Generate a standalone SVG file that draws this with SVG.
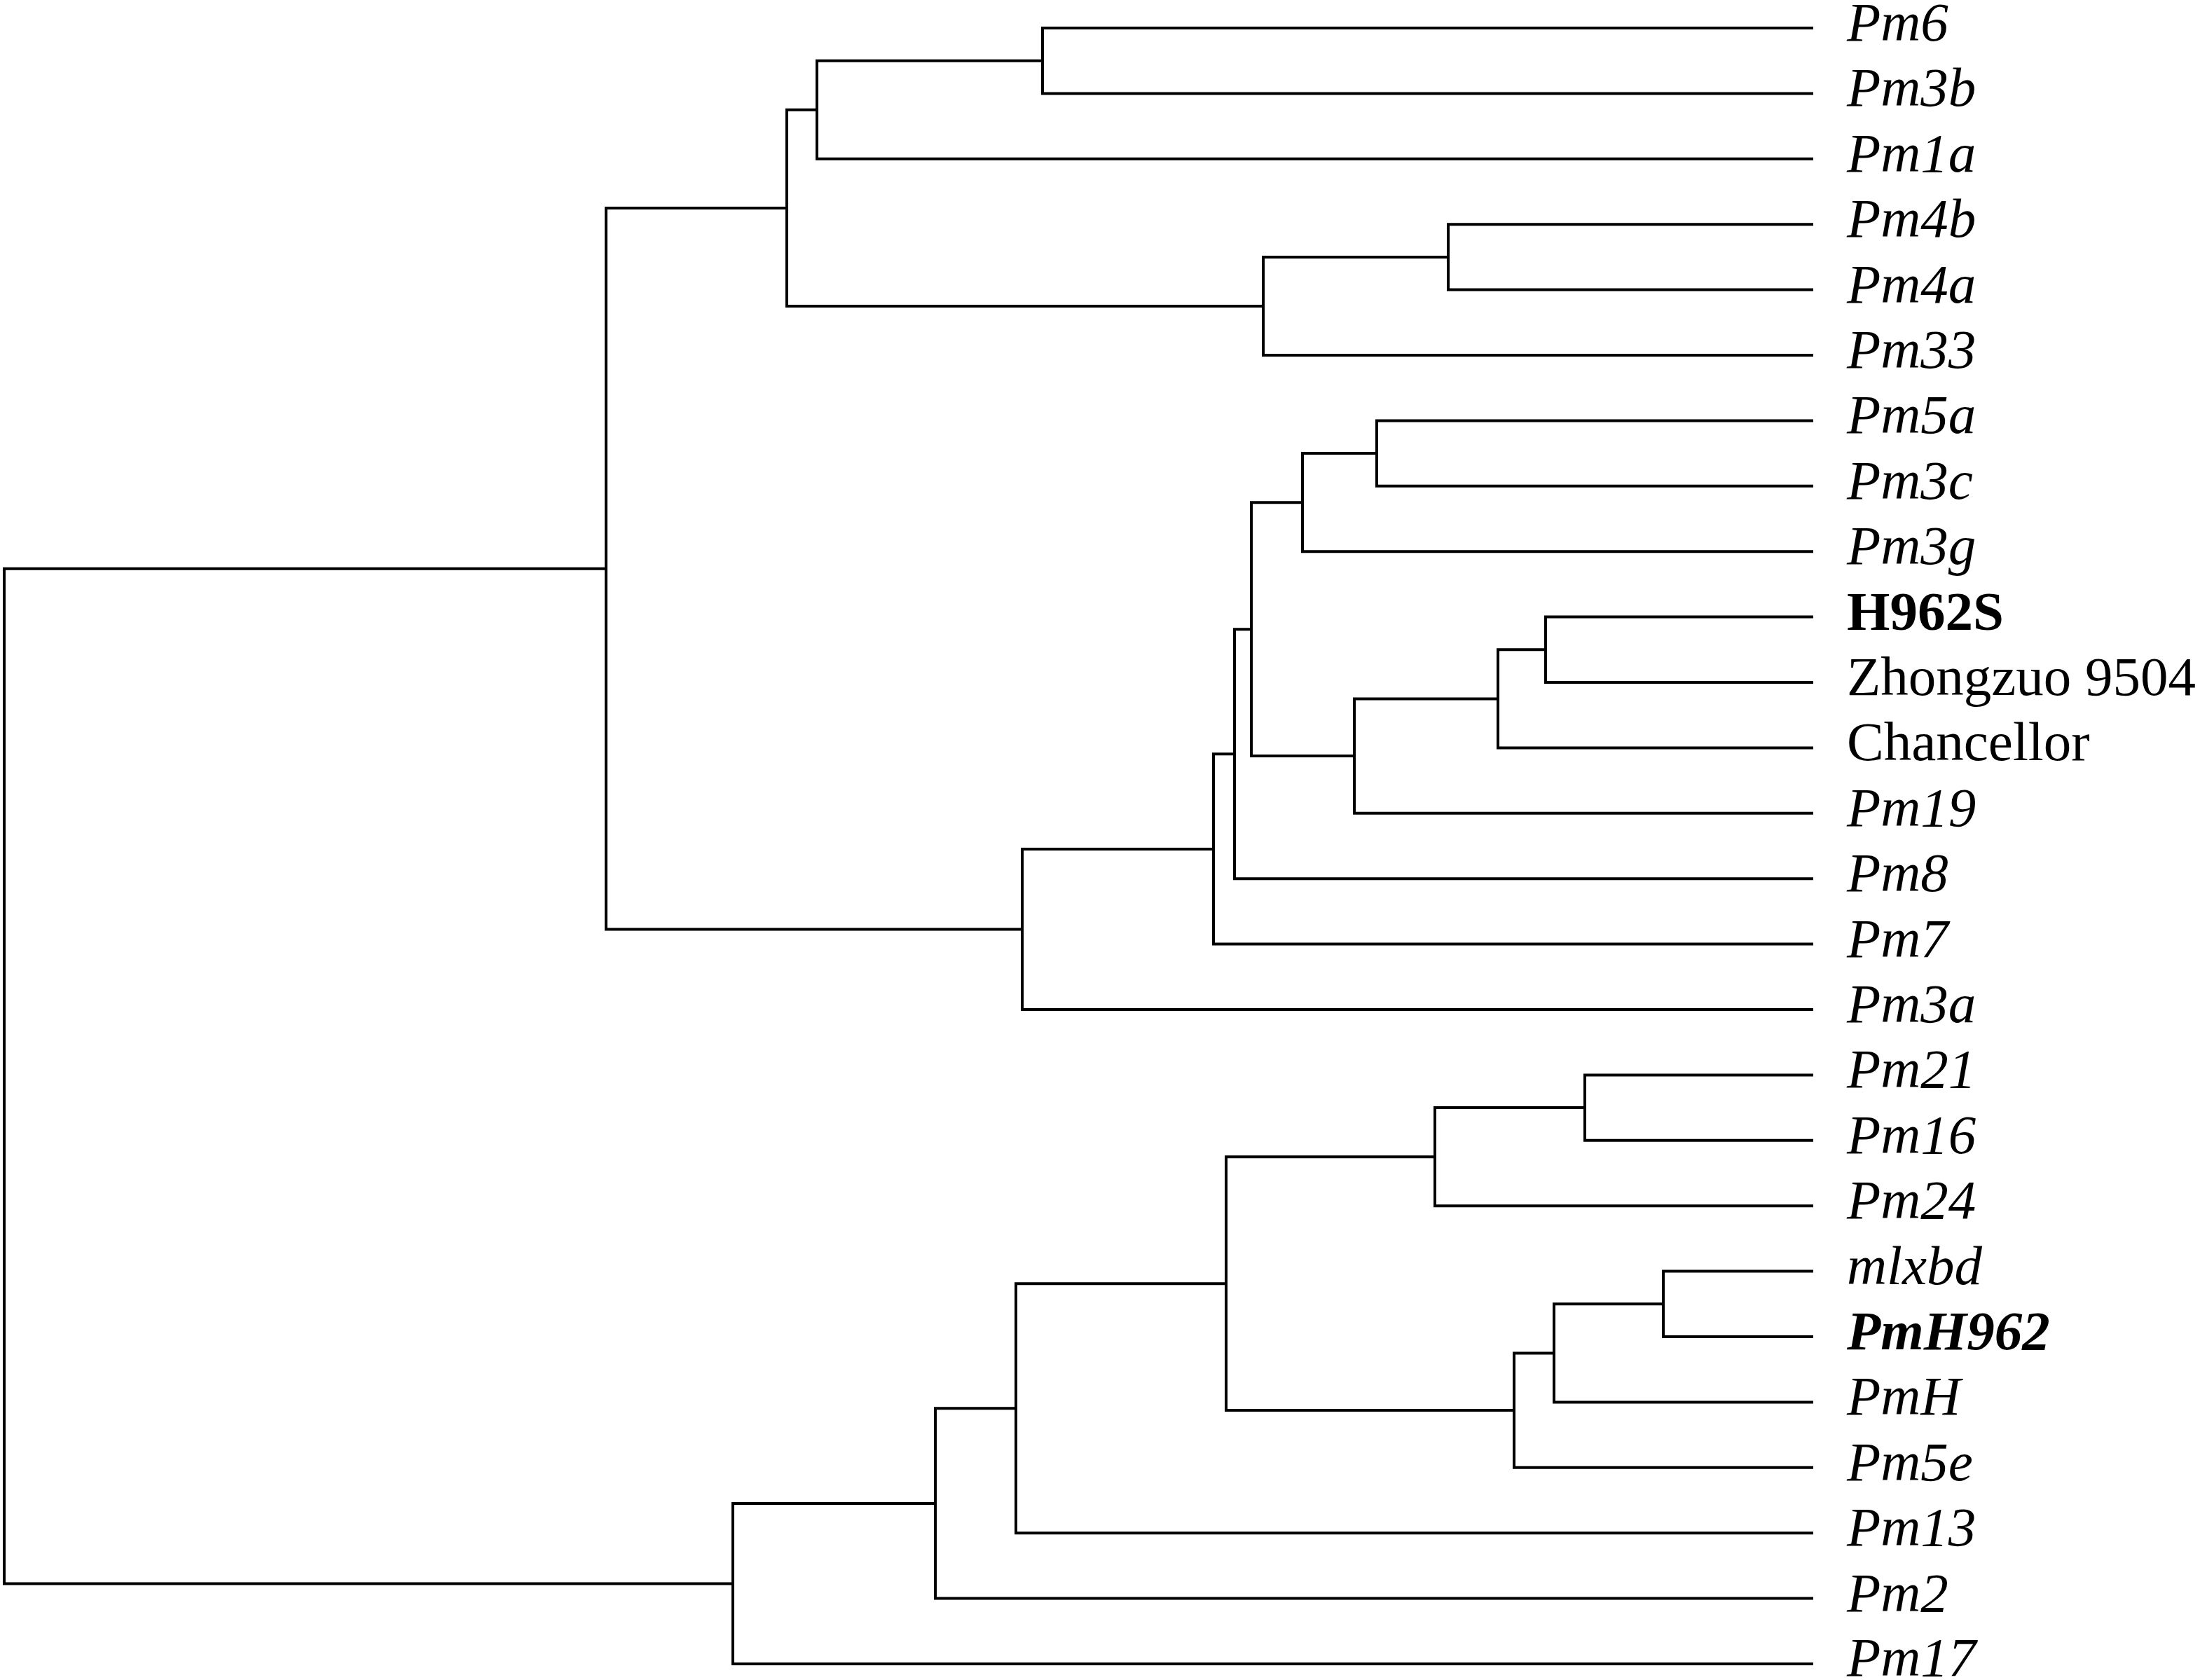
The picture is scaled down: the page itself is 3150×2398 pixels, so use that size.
<svg xmlns="http://www.w3.org/2000/svg" width="3150" height="2398" viewBox="0 0 3150 2398">
<style>
.e{fill:none;stroke:#000;stroke-width:4;stroke-linejoin:miter;stroke-linecap:square}
text{font-family:"Liberation Serif","Times New Roman",serif;font-size:79px;fill:#000}
.i{font-style:italic}
.b{font-weight:bold}
</style>
<rect width="3150" height="2398" fill="#fff"/>
<g id="connectors">
<path class="e" d="M2586 40 H1488 V133.4 H2586"/>
<path class="e" d="M1488 86.7 H1166 V226.8 H2586"/>
<path class="e" d="M2586 320.2 H2067 V413.6 H2586"/>
<path class="e" d="M2067 366.9 H1803 V507 H2586"/>
<path class="e" d="M1166 156.8 H1123 V437 H1803"/>
<path class="e" d="M2586 600.4 H1965 V693.8 H2586"/>
<path class="e" d="M1965 647.1 H1859 V787.2 H2586"/>
<path class="e" d="M2586 880.6 H2206 V974 H2586"/>
<path class="e" d="M2206 927.3 H2138 V1067.4 H2586"/>
<path class="e" d="M2138 997.4 H1933 V1160.8 H2586"/>
<path class="e" d="M1859 717.2 H1786 V1079.1 H1933"/>
<path class="e" d="M1786 898.2 H1762 V1254.2 H2586"/>
<path class="e" d="M1762 1076.2 H1732 V1347.6 H2586"/>
<path class="e" d="M1732 1211.9 H1459 V1441 H2586"/>
<path class="e" d="M1123 296.9 H865 V1326.5 H1459"/>
<path class="e" d="M2586 1534.4 H2262 V1627.8 H2586"/>
<path class="e" d="M2262 1581.1 H2048 V1721.2 H2586"/>
<path class="e" d="M2586 1814.6 H2374 V1908 H2586"/>
<path class="e" d="M2374 1861.3 H2218 V2001.4 H2586"/>
<path class="e" d="M2218 1931.4 H2161 V2094.8 H2586"/>
<path class="e" d="M2048 1651.2 H1750 V2013.1 H2161"/>
<path class="e" d="M1750 1832.2 H1450 V2188.2 H2586"/>
<path class="e" d="M1450 2010.2 H1335 V2281.6 H2586"/>
<path class="e" d="M1335 2145.9 H1046 V2375 H2586"/>
<path class="e" d="M865 811.7 H6 V2260.5 H1046"/>
</g>
<g id="leaves">
<g id="pm6"><text class="i" x="2636" y="58">Pm6</text></g>
<g id="pm3b"><text class="i" x="2636" y="151.4">Pm3b</text></g>
<g id="pm1a"><text class="i" x="2636" y="244.8">Pm1a</text></g>
<g id="pm4b"><text class="i" x="2636" y="338.2">Pm4b</text></g>
<g id="pm4a"><text class="i" x="2636" y="431.6">Pm4a</text></g>
<g id="pm33"><text class="i" x="2636" y="525">Pm33</text></g>
<g id="pm5a"><text class="i" x="2636" y="618.4">Pm5a</text></g>
<g id="pm3c"><text class="i" x="2636" y="711.8">Pm3c</text></g>
<g id="pm3g"><text class="i" x="2636" y="805.2">Pm3g</text></g>
<g id="h962s"><text class="b" x="2636" y="898.6">H962S</text></g>
<g id="zhongzuo"><text x="2636" y="992">Zhongzuo 9504</text></g>
<g id="chancellor"><text x="2636" y="1085.4">Chancellor</text></g>
<g id="pm19"><text class="i" x="2636" y="1178.8">Pm19</text></g>
<g id="pm8"><text class="i" x="2636" y="1272.2">Pm8</text></g>
<g id="pm7"><text class="i" x="2636" y="1365.6">Pm7</text></g>
<g id="pm3a"><text class="i" x="2636" y="1459">Pm3a</text></g>
<g id="pm21"><text class="i" x="2636" y="1552.4">Pm21</text></g>
<g id="pm16"><text class="i" x="2636" y="1645.8">Pm16</text></g>
<g id="pm24"><text class="i" x="2636" y="1739.2">Pm24</text></g>
<g id="mlxbd"><text class="i" x="2636" y="1832.6">mlxbd</text></g>
<g id="pmh962"><text class="i b" x="2636" y="1926">PmH962</text></g>
<g id="pmh"><text class="i" x="2636" y="2019.4">PmH</text></g>
<g id="pm5e"><text class="i" x="2636" y="2112.8">Pm5e</text></g>
<g id="pm13"><text class="i" x="2636" y="2206.2">Pm13</text></g>
<g id="pm2"><text class="i" x="2636" y="2299.6">Pm2</text></g>
<g id="pm17"><text class="i" x="2636" y="2392">Pm17</text></g>
</g>
</svg>
